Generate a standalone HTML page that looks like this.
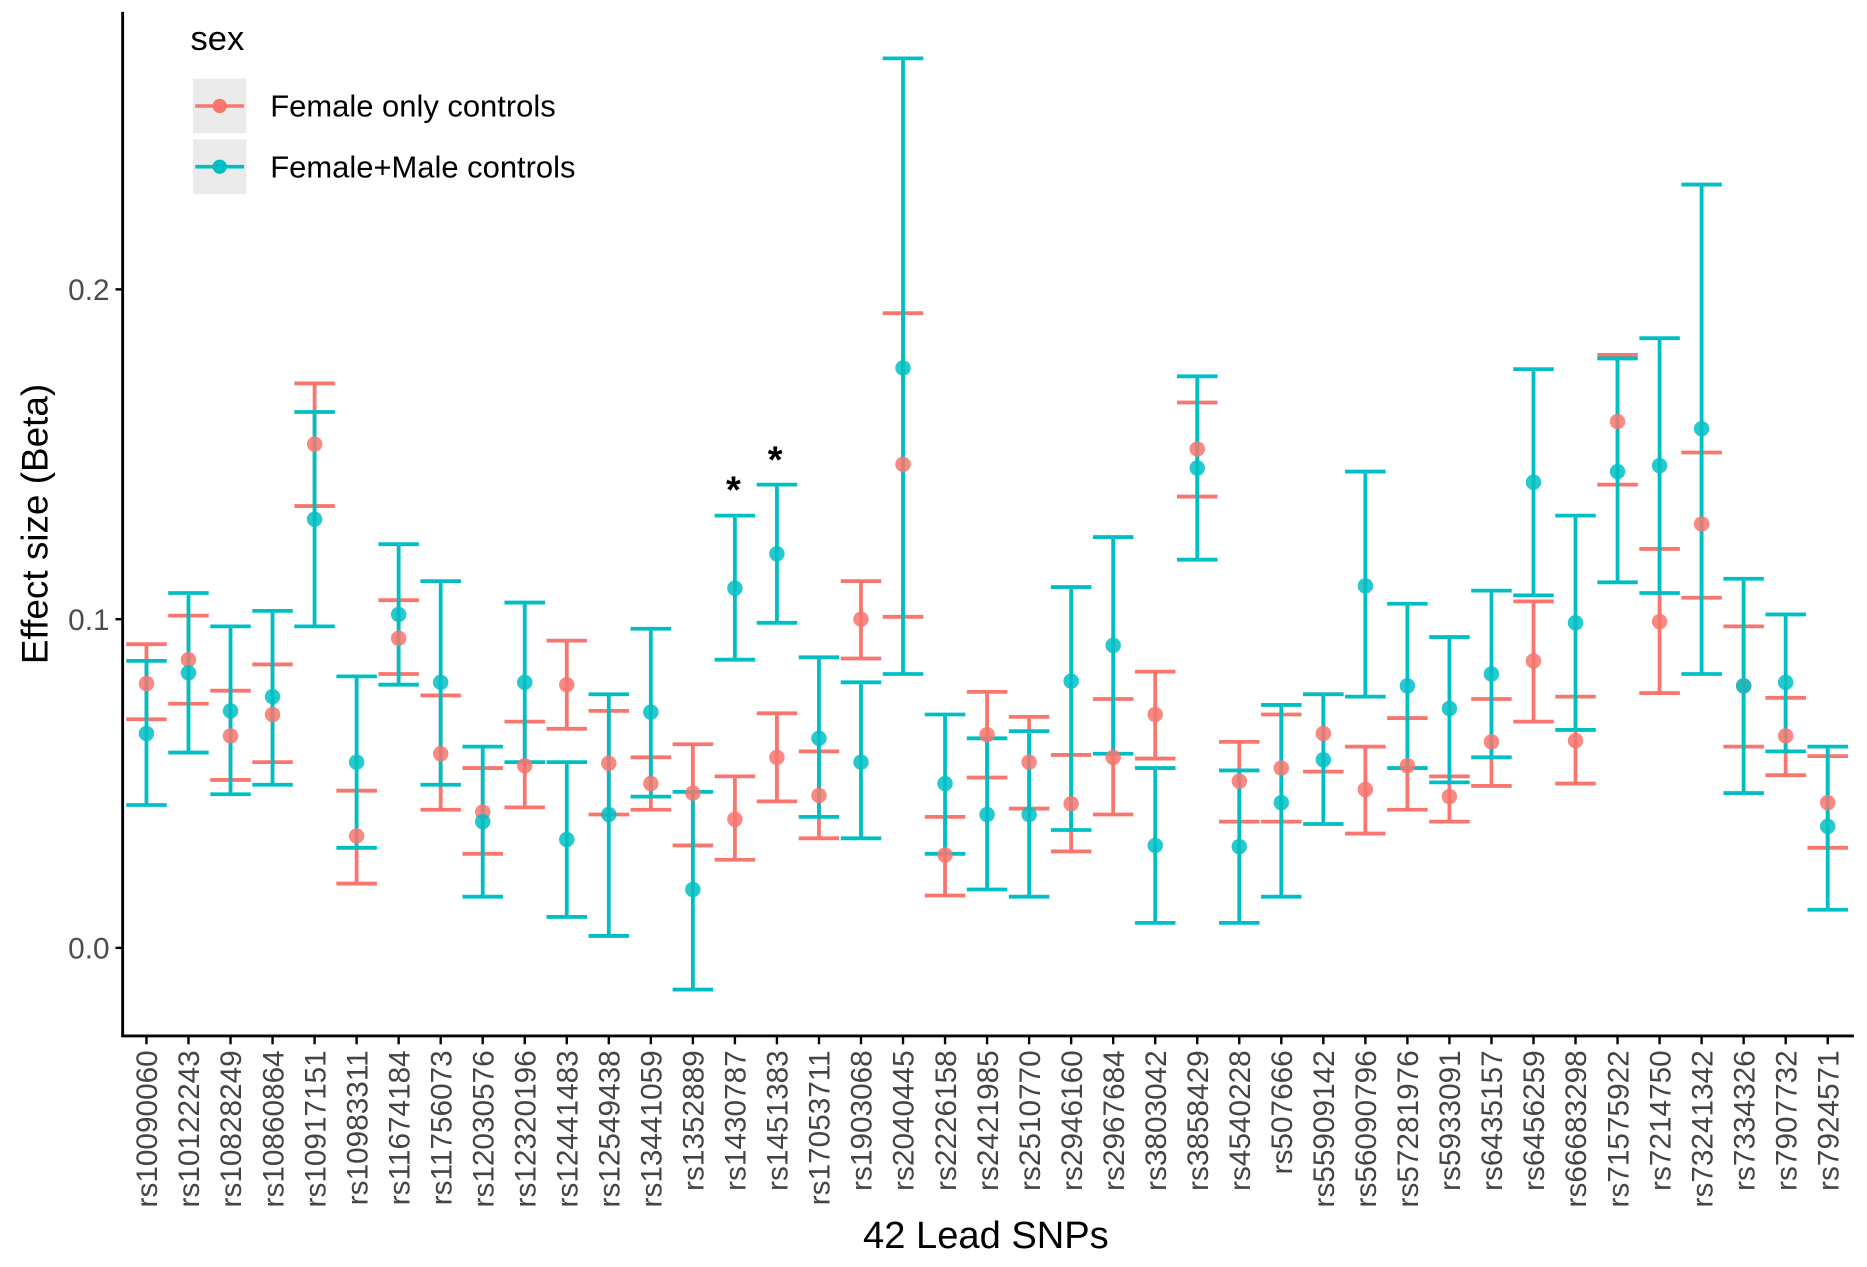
<!DOCTYPE html>
<html><head><meta charset="utf-8"><style>
html,body{margin:0;padding:0;background:#fff;}
svg{display:block;}
</style></head><body>
<svg id="s" xmlns="http://www.w3.org/2000/svg" width="1867" height="1267" viewBox="0 0 1568 1064" preserveAspectRatio="none" font-family="Liberation Sans, Arial, sans-serif">
<rect width="1568" height="1064" fill="#fff"/>
<g id="data"></g>
<line x1="103" y1="10" x2="103" y2="871" stroke="#000" stroke-width="2.4"/>
<line x1="102" y1="870" x2="1557" y2="870" stroke="#000" stroke-width="2.4"/>
<g stroke="#000" stroke-width="2">
<line x1="97" y1="243" x2="103" y2="243"/><line x1="97" y1="520" x2="103" y2="520"/><line x1="97" y1="796" x2="103" y2="796"/>
</g>
<g font-size="25" fill="#4d4d4d" text-anchor="end">
<text x="92" y="252">0.2</text><text x="92" y="529">0.1</text><text x="92" y="805">0.0</text>
</g>
<text transform="translate(40,440) rotate(-90)" text-anchor="middle" font-size="31" fill="#000">Effect size (Beta)</text>
<text x="828" y="1048" text-anchor="middle" font-size="32" fill="#000">42 Lead SNPs</text>
<text x="160" y="42" font-size="29" fill="#000">sex</text>
<rect x="162" y="66" width="45" height="46" fill="#ebebeb"/>
<rect x="162" y="117" width="45" height="46" fill="#ebebeb"/>
<line x1="164" y1="89" x2="205" y2="89" stroke="#F8766D" stroke-width="3"/>
<circle cx="184.5" cy="89" r="6" fill="#F8766D"/>
<line x1="164" y1="140" x2="205" y2="140" stroke="#00BFC4" stroke-width="3"/>
<circle cx="184.5" cy="140" r="6" fill="#00BFC4"/>
<text x="227" y="98" font-size="26" fill="#000">Female only controls</text>
<text x="227" y="149" font-size="26" fill="#000">Female+Male controls</text>
<text x="616" y="422" text-anchor="middle" font-size="32" font-weight="bold" fill="#000">*</text>
<text x="651" y="397" text-anchor="middle" font-size="32" font-weight="bold" fill="#000">*</text>
<g id="xl"></g>
</svg>
<script>
var names=["rs10090060","rs10122243","rs10828249","rs10860864","rs10917151","rs10983311","rs11674184","rs11756073","rs12030576","rs12320196","rs12441483","rs12549438","rs13441059","rs1352889","rs1430787","rs1451383","rs17053711","rs1903068","rs2040445","rs2226158","rs2421985","rs2510770","rs2946160","rs2967684","rs3803042","rs3858429","rs4540228","rs507666","rs55909142","rs56090796","rs57281976","rs5933091","rs6435157","rs6456259","rs66683298","rs71575922","rs7214750","rs73241342","rs7334326","rs7907732","rs7924571"];
var R=[[574,541,604],[554,517,591],[618,580,655],[600,558,640],[373,322,425],[702,664,742],[536,504,566],[633,584,680],[682,645,717],[643,606,678],[575,538,612],[641,597,684],[658,636,680],[666,625,710],[688,652,722],[636,599,673],[668,631,704],[520,488,553],[390,263,518],[718,686,752],[617,581,653],[640,602,679],[675,634,715],[636,587,684],[600,564,637],[377,338,417],[656,623,690],[645,600,690],[616,583,648],[663,627,700],[643,603,680],[669,652,690],[623,587,660],[555,505,606],[622,585,658],[354,298,407],[522,461,582],[440,380,502],[576,526,627],[618,586,651],[674,635,712]];
var T=[[616,555,676],[565,498,632],[597,526,667],[585,513,659],[436,346,526],[640,568,712],[516,457,575],[573,488,659],[690,627,753],[573,506,640],[705,640,770],[684,583,786],[598,528,669],[747,665,831],[494,433,554],[465,407,523],[620,552,686],[640,573,704],[309,49,566],[658,600,717],[684,620,747],[684,614,753],[572,493,697],[542,451,633],[710,645,775],[393,316,470],[711,647,775],[674,592,753],[638,583,692],[492,396,585],[576,507,645],[595,535,657],[566,496,636],[405,310,500],[523,433,613],[396,301,489],[391,284,498],[360,155,566],[576,486,666],[573,516,631],[694,627,764]];
var n=names.length, x0=123, x1=1535, dx=(x1-x0)/(n-1);
var g='',xl='';
function bar(x,d,c){return '<g stroke="'+c+'" stroke-width="3.2"><line x1="'+x+'" y1="'+d[1]+'" x2="'+x+'" y2="'+d[2]+'"/><line x1="'+(x-17)+'" y1="'+d[1]+'" x2="'+(x+17)+'" y2="'+d[1]+'"/><line x1="'+(x-17)+'" y1="'+d[2]+'" x2="'+(x+17)+'" y2="'+d[2]+'"/></g>';}
for(var i=0;i<n;i++){var x=x0+i*dx;g+=bar(x,R[i],'#F8766D');}
for(var i=0;i<n;i++){var x=x0+i*dx;g+=bar(x,T[i],'#00BFC4');}
for(var i=0;i<n;i++){var x=x0+i*dx;g+='<circle cx="'+x+'" cy="'+R[i][0]+'" r="6.5" fill="#F8766D" fill-opacity="0.85"/>';g+='<circle cx="'+x+'" cy="'+T[i][0]+'" r="6.5" fill="#00BFC4" fill-opacity="0.85"/>';
xl+='<line x1="'+x+'" y1="870" x2="'+x+'" y2="877" stroke="#000" stroke-width="2"/>';
xl+='<text transform="translate('+(x+9)+',882) rotate(-90)" text-anchor="end" font-size="25" fill="#444">'+names[i]+'</text>';}
document.getElementById('data').innerHTML=g;
document.getElementById('xl').innerHTML=xl;
</script>
</body></html>
